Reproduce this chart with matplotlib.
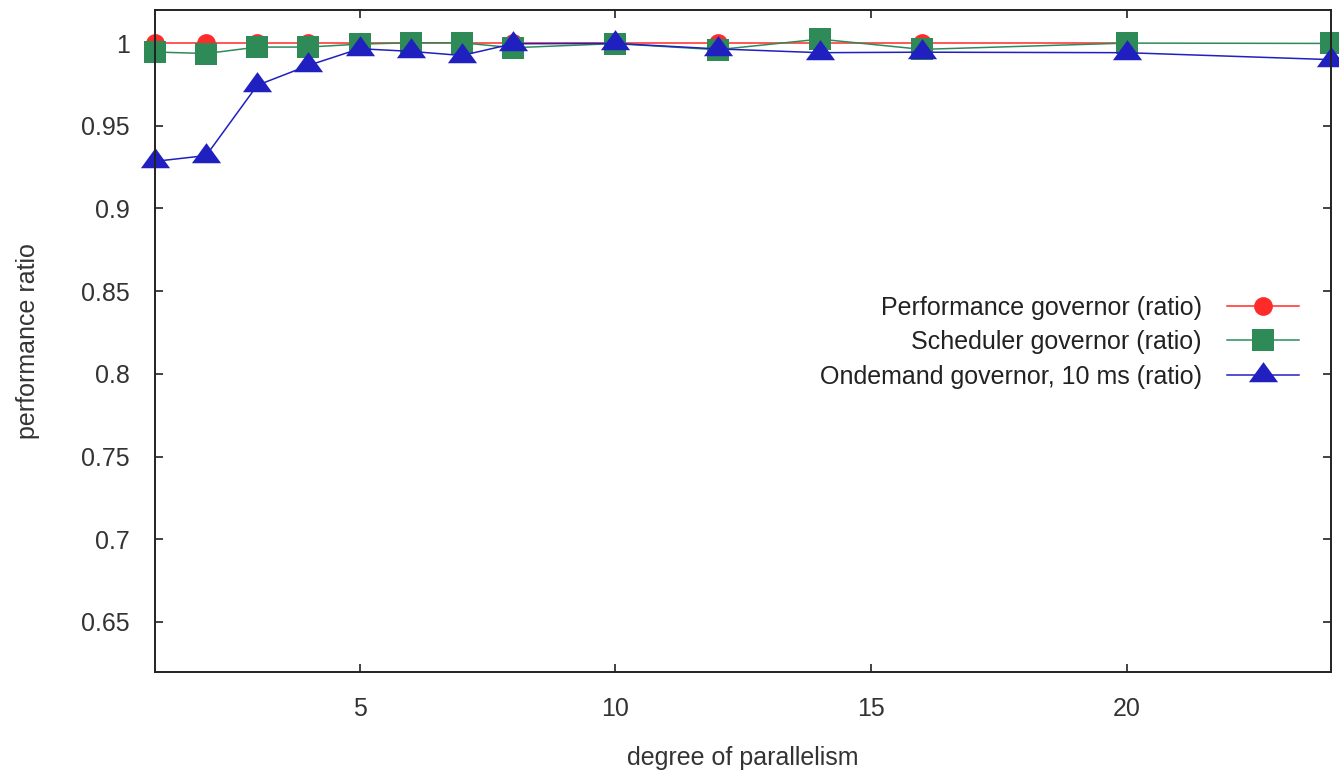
import numpy as np
import matplotlib
matplotlib.use('Agg')
import matplotlib.pyplot as plt

plt.rcParams['font.family'] = ['Liberation Sans', 'DejaVu Sans']

# degree of parallelism
x_perf = [1, 2, 3, 4, 5, 6, 7, 8, 10, 12, 14, 16, 20]
x_all = [1, 2, 3, 4, 5, 6, 7, 8, 10, 12, 14, 16, 20, 24]

perf_ratio = [1.0, 1.0, 1.0, 1.0, 1.0, 1.0, 1.0, 1.0, 1.0, 1.0, 1.0, 1.0, 1.0]
sched_ratio = [0.9946, 0.9937, 0.9976, 0.9976, 0.9994, 1.0002, 1.0002, 0.9972,
               0.9997, 0.9960, 1.0024, 0.9962, 1.0000, 0.9998]
ondemand_ratio = [0.9285, 0.9320, 0.9745, 0.9865, 0.9966, 0.9950, 0.9925, 0.9996,
                  0.9998, 0.9965, 0.9942, 0.9945, 0.9942, 0.9900]

labels = ['Performance governor (ratio)',
          'Scheduler governor (ratio)',
          'Ondemand governor, 10 ms (ratio)']

# flat triangle, centroid at origin (gnuplot style)
tri = [(0, 13.3), (-14.5, -6.7), (14.5, -6.7), (0, 13.3)]

fig = plt.figure(figsize=(13.39, 7.71), dpi=100)
ax = fig.add_axes([0.1158, 0.129, 0.8783, 0.858])

ax.plot(x_perf, perf_ratio, color='#ff2a2a', lw=1.1, marker='o',
        markersize=13.5, markeredgewidth=0, label=labels[0], clip_on=False)
ax.plot(x_all, sched_ratio, color='#2e8b57', lw=1.1, marker='s',
        markersize=15.6, markeredgewidth=0, label=labels[1], clip_on=False)
ax.plot(x_all, ondemand_ratio, color='#2020c0', lw=1.1, marker=tri,
        markersize=21, markeredgewidth=0, label=labels[2], clip_on=False)

ax.set_xlim(1, 24)
ax.set_ylim(0.62, 1.02)
ax.set_xticks([5, 10, 15, 20])
ax.set_yticks([0.65, 0.7, 0.75, 0.8, 0.85, 0.9, 0.95, 1.0])
ax.set_yticklabels(['0.65', '0.7', '0.75', '0.8', '0.85', '0.9', '0.95', '1'])

ax.tick_params(direction='in', length=6, width=1.2, colors='#222222',
               labelcolor='#333333', labelsize=18, pad=18,
               top=True, right=True)
for s in ax.spines.values():
    s.set_linewidth(1.4)
    s.set_color('#222222')

ax.set_xlabel('degree of parallelism', fontsize=18, color='#333333')
ax.set_ylabel('performance ratio', fontsize=18, color='#333333')
ax.xaxis.set_label_coords(0.5, -0.113)
ax.yaxis.set_label_coords(-0.098, 0.5)

leg = ax.legend(loc='center right', bbox_to_anchor=(0.9728, 0.498),
                frameon=False, markerfirst=False, fontsize=18,
                handlelength=2.9, handletextpad=1.0, labelspacing=0.42,
                borderaxespad=0, borderpad=0)
for t in leg.get_texts():
    t.set_color('#222222')

fig.savefig('out.png', dpi=100)
